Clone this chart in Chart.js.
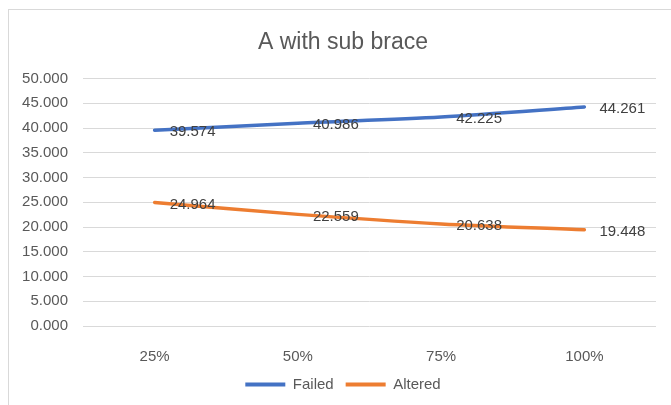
<!DOCTYPE html>
<html>
<head>
<meta charset="utf-8">
<script src="https://cdn.jsdelivr.net/npm/chart.js@4"></script>
<style>
  html, body { margin: 0; padding: 0; background: #fff; overflow: hidden; }
  #wrap { position: absolute; left: 0; top: 0; width: 671px; height: 405px; }
  #frame { position: absolute; left: 8px; top: 9px; width: 700px; height: 500px;
           border: 1px solid #d9d9d9; pointer-events: none; }
</style>
</head>
<body>
<div id="frame"></div>
<div id="wrap"><canvas id="chart" width="671" height="405"></canvas></div>
<script>
const categories = ['25%', '50%', '75%', '100%'];
const failed = [39.574, 40.986, 42.225, 44.261];
const altered = [24.964, 22.559, 20.638, 19.448];
const yTicks = [0, 5, 10, 15, 20, 25, 30, 35, 40, 45, 50];

const FONT = "'Liberation Sans', Arial, sans-serif";

// value labels to the right of each point
const valueLabels = {
  id: 'valueLabels',
  afterDatasetsDraw(chart) {
    const ctx = chart.ctx;
    ctx.save();
    ctx.font = '15px ' + FONT;
    ctx.fillStyle = '#404040';
    ctx.textAlign = 'left';
    ctx.textBaseline = 'middle';
    chart.data.datasets.forEach((ds, i) => {
      const meta = chart.getDatasetMeta(i);
      meta.data.forEach((pt, j) => {
        ctx.fillText(ds.data[j].toFixed(3), pt.x + 15, pt.y + 2);
      });
    });
    ctx.restore();
  }
};

// title and legend sit centred on the framed area, a bit right of the canvas centre
const centreOnFrame = {
  id: 'centreOnFrame',
  afterLayout(chart) {
    const shift = 15;
    [chart.titleBlock, chart.legend].forEach(box => {
      if (box) {
        box.left += shift;
        box.right += shift;
      }
    });
  }
};

new Chart(document.getElementById('chart'), {
  type: 'line',
  data: {
    labels: categories,
    datasets: [
      {
        label: 'Failed',
        data: failed,
        borderColor: '#4472C4',
        backgroundColor: '#4472C4',
        borderWidth: 3.5,
        pointRadius: 0,
        tension: 0.3,
        borderCapStyle: 'round'
      },
      {
        label: 'Altered',
        data: altered,
        borderColor: '#ED7D31',
        backgroundColor: '#ED7D31',
        borderWidth: 3.5,
        pointRadius: 0,
        tension: 0.3,
        borderCapStyle: 'round'
      }
    ]
  },
  options: {
    responsive: false,
    animation: false,
    layout: { padding: { left: 0, right: 15, top: 0, bottom: 3 } },
    plugins: {
      title: {
        display: true,
        text: 'A with sub brace',
        color: '#595959',
        font: { family: FONT, size: 23, weight: 'normal' },
        padding: { top: 29, bottom: 22 }
      },
      legend: {
        position: 'bottom',
        labels: {
          color: '#595959',
          font: { family: FONT, size: 15 },
          boxWidth: 40,
          boxHeight: 4,
          padding: 12,
          generateLabels(chart) {
            return chart.data.datasets.map((ds, i) => ({
              text: ds.label,
              fillStyle: ds.borderColor,
              strokeStyle: ds.borderColor,
              lineWidth: 0,
              fontColor: '#595959',
              hidden: false,
              datasetIndex: i
            }));
          }
        }
      },
      tooltip: { enabled: false }
    },
    scales: {
      x: {
        offset: true,
        grid: { display: false },
        border: { display: false },
        ticks: {
          color: '#595959',
          font: { family: FONT, size: 15 },
          padding: 14
        },
        afterFit(scale) { scale.height = 39; }
      },
      y: {
        min: 0,
        max: 50,
        afterBuildTicks(scale) {
          scale.ticks = yTicks.map(v => ({ value: v }));
        },
        grid: { color: '#d9d9d9', lineWidth: 1, drawTicks: false },
        border: { display: false },
        ticks: {
          color: '#595959',
          font: { family: FONT, size: 15 },
          padding: 15,
          callback: v => v.toFixed(3)
        },
        afterFit(scale) { scale.width = 83; }
      }
    }
  },
  plugins: [valueLabels, centreOnFrame]
});
</script>
</body>
</html>
